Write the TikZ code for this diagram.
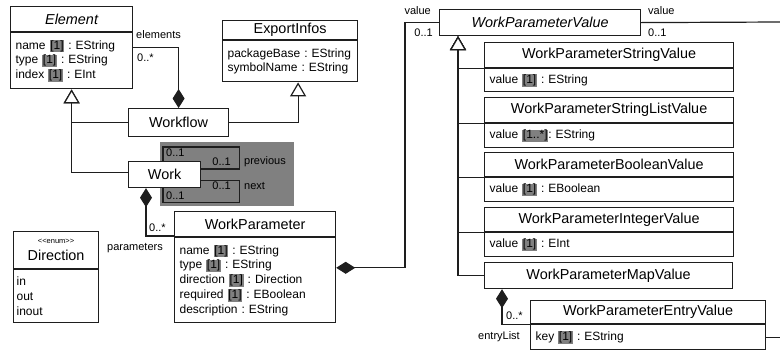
\documentclass[tikz,border=0pt]{standalone}
\usepackage{fontspec}
\setmainfont{Liberation Sans}
\usetikzlibrary{arrows.meta,backgrounds}
\definecolor{ln}{HTML}{1E1E1E}
\definecolor{hl}{HTML}{808080}
\newcommand\mlt[1]{{\setlength\fboxsep{0.7pt}\colorbox{hl}{#1}}}
\newcommand\clsfont{\fontsize{14.4}{16}\selectfont}
\newcommand\attfont{\fontsize{12}{14.8}\selectfont\frenchspacing}
\newcommand\lblfont{\fontsize{11}{13}\selectfont}
\newcommand\stfont{\fontsize{7.5}{9}\selectfont}
\begin{document}
\frenchspacing
\begin{tikzpicture}[x=1pt,y=-1pt,
  clsbox/.style={draw=ln,line width=1.2pt,fill=white,anchor=north west,inner sep=0pt,font=\clsfont,text=black},
  attbox/.style={draw=ln,line width=1.2pt,fill=white,anchor=north west,inner xsep=5pt,inner ysep=0pt,font=\attfont,align=left,text=black},
  lbl/.style={inner sep=0pt,font=\lblfont,text=black},
  conn/.style={draw=ln,line width=1.2pt},
  inh/.style={conn,-{Triangle[open,length=14pt,width=16pt,fill=white]}},
  compo/.style={conn,-{Diamond[length=19pt,width=12pt,fill=ln]}}
]
\useasboundingbox (0,0) rectangle (780,349);

% ---- classes ----
\node[clsbox,minimum width=122pt,minimum height=25pt] (el) at (10,6) {\itshape Element};
\node[attbox,text width=112pt,minimum height=56pt] (ela) at (el.south west)
  {name \mlt{[1]} : EString\\type \mlt{[1]} : EString\\index \mlt{[1]} : EInt};

\node[clsbox,minimum width=135pt,minimum height=19pt] (ei) at (222,20) {ExportInfos};
\node[attbox,text width=125pt,minimum height=41pt] (eia) at (ei.south west)
  {packageBase : EString\\symbolName : EString};

\node[clsbox,minimum width=100pt,minimum height=28pt] (wf) at (128,108) {Workflow};
\node[clsbox,minimum width=72pt,minimum height=26pt] (work) at (128,161) {Work};

\node[clsbox,minimum width=161pt,minimum height=25pt] (wp) at (174,211) {WorkParameter};
\node[attbox,text width=151pt,minimum height=85pt] (wpa) at (wp.south west)
  {name \mlt{[1]} : EString\\type \mlt{[1]} : EString\\direction \mlt{[1]} : Direction\\required \mlt{[1]} : EBoolean\\description : EString};

\node[clsbox,minimum width=85pt,minimum height=37pt,align=center] (dir) at (13,231)
  {{\stfont <{}<enum>{}>}\\[1pt]Direction};
\node[attbox,text width=79pt,minimum height=53pt,inner xsep=3pt] (dira) at (dir.south west)
  {in\\out\\inout};

\node[clsbox,minimum width=201pt,minimum height=26pt] (wpv) at (439,9) {\itshape WorkParameterValue};

\node[clsbox,minimum width=249pt,minimum height=25pt] (sv) at (484,42) {WorkParameterStringValue};
\node[attbox,text width=239pt,minimum height=23pt] (sva) at (sv.south west) {value \mlt{[1]} : EString};

\node[clsbox,minimum width=249pt,minimum height=25pt] (slv) at (484,97) {WorkParameterStringListValue};
\node[attbox,text width=239pt,minimum height=24pt] (slva) at (slv.south west) {value \mlt{[1..*]}: EString};

\node[clsbox,minimum width=249pt,minimum height=24pt] (bv) at (484,152) {WorkParameterBooleanValue};
\node[attbox,text width=239pt,minimum height=24pt] (bva) at (bv.south west) {value \mlt{[1]} : EBoolean};

\node[clsbox,minimum width=249pt,minimum height=24pt] (iv) at (484,207) {WorkParameterIntegerValue};
\node[attbox,text width=239pt,minimum height=24pt] (iva) at (iv.south west) {value \mlt{[1]} : EInt};

\node[clsbox,minimum width=248pt,minimum height=26pt] (mv) at (484,262) {WorkParameterMapValue};

\node[clsbox,minimum width=235pt,minimum height=23pt] (ev) at (530,300) {WorkParameterEntryValue};
\node[attbox,text width=225pt,minimum height=25pt] (eva) at (ev.south west) {key \mlt{[1]} : EString};

\coordinate (rgtA) at (780,22);
\coordinate (rgtB) at (780,336);

% ---- self associations of Work (behind the nodes) ----
\begin{scope}[on background layer]
  \fill[hl] (160,142) rectangle (294,206);
  \draw[conn] ([xshift=35pt,yshift=14pt]work.north west) rectangle ([xshift=38pt,yshift=-8pt]work.north east);
  \draw[conn] ([xshift=35pt,yshift=-14pt]work.south west) rectangle ([xshift=38pt,yshift=8pt]work.south east);
\end{scope}
\node[lbl,anchor=west] (m1) at (166,153) {0..1};
\node[lbl,anchor=east] (m2) at (231,162) {0..1};
\node[lbl,anchor=west] (prev) at (244,162) {previous};
\node[lbl,anchor=east] (m3) at (231,186) {0..1};
\node[lbl,anchor=west] (nxt) at (244,186) {next};
\node[lbl,anchor=west] (m4) at (166,196) {0..1};

% ---- connectors ----
\draw[compo] ([yshift=-15pt]ela.north east) -| (wf.north);
\node[lbl,anchor=west] (elL) at (136,35) {elements};
\node[lbl,anchor=west] (elM) at (137,58) {0..*};

\draw[inh] (wf.east) -| ([xshift=8pt]eia.south);
\draw[inh] (wf.west) -| (ela.south);
\draw[inh] ([yshift=2pt]work.west) -| (ela.south);

\draw[compo] ([yshift=-25pt]wp.north west) -| ([xshift=18pt]work.south west);
\node[lbl,anchor=west] (pM) at (149,228) {0..*};
\node[lbl,anchor=east] (pL) at (163,248) {parameters};

\draw[compo] (wpv.west) -- ++(-34pt,0) |- ([yshift=12.5pt]wpa.east);
\node[lbl,anchor=east] (vL1) at (431,11) {value};
\node[lbl,anchor=east] (vM1) at (433,33) {0..1};

\draw[conn] (wpv.east) -- (rgtA);
\node[lbl,anchor=west] (vL2) at (648,11) {value};
\node[lbl,anchor=west] (vM2) at (648,33) {0..1};

\draw[inh] (mv.west) -| ([xshift=19pt]wpv.south west);
\draw[inh] (iv.south west) -| ([xshift=19pt]wpv.south west);
\draw[inh] (bv.south west) -| ([xshift=19pt]wpv.south west);
\draw[inh] (slv.south west) -| ([xshift=19pt]wpv.south west);
\draw[inh] (sv.south west) -| ([xshift=19pt]wpv.south west);

\draw[compo] (ev.south west) -| ([xshift=18pt]mv.south west);
\node[lbl,anchor=west] (eM) at (506,316) {0..*};
\node[lbl,anchor=east] (eL) at (520,337) {entryList};

\draw[conn] (eva.east) -- (eva.east -| rgtB);
\end{tikzpicture}
\end{document}
